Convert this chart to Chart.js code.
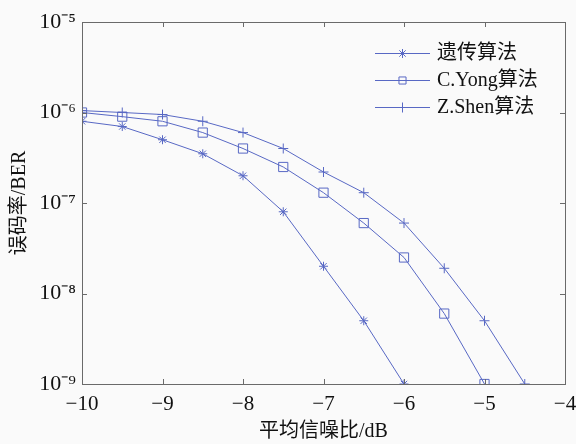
<!DOCTYPE html>
<html>
<head>
<meta charset="utf-8">
<script src="https://cdn.jsdelivr.net/npm/chart.js@4/dist/chart.umd.min.js"></script>
<style>
  html, body { margin: 0; padding: 0; background: #fafafa; }
  #wrap { width: 576px; height: 444px; }
</style>
</head>
<body>
<div id="wrap"><canvas id="berChart" width="576" height="444"></canvas></div>
<script>
// average SNR (dB)
var snr = [-10, -9.5, -9, -8.5, -8, -7.5, -7, -6.5, -6, -5.5, -5, -4.5];
// BER values
var gaBer   = [8e-7, 7e-7, 5e-7, 3.5e-7, 2e-7, 8e-8, 2e-8, 5e-9, 1e-9];
var yongBer = [1e-6, 9e-7, 8e-7, 6e-7, 4e-7, 2.5e-7, 1.3e-7, 6e-8, 2.5e-8, 6e-9, 1e-9];
var shenBer = [1.05e-6, 1e-6, 9.5e-7, 8e-7, 6e-7, 4e-7, 2.2e-7, 1.3e-7, 6e-8, 1.9e-8, 5e-9, 1e-9];
var seriesNames = ['遗传算法', 'C.Yong算法', 'Z.Shen算法'];
var xTicks = [-10, -9, -8, -7, -6, -5, -4];
var yTicks = [1e-9, 1e-8, 1e-7, 1e-6, 1e-5];

var lineColor = '#5868c4';
var serif = "'Liberation Serif', 'Times New Roman', 'Noto Sans CJK SC', serif";
var sup = { '-': '⁻', '0': '⁰', '1': '¹', '2': '²', '3': '³', '4': '⁴', '5': '⁵', '6': '⁶', '7': '⁷', '8': '⁸', '9': '⁹' };

function toPoints(vals) {
    return vals.map(function (v, i) { return { x: snr[i], y: v }; });
}

// box frame with inward ticks, MATLAB style
var framePlugin = {
    id: 'frame',
    afterDraw: function (chart) {
        var ctx = chart.ctx, a = chart.chartArea;
        var xs = chart.scales.x, ys = chart.scales.y;
        ctx.save();
        ctx.strokeStyle = '#6a6a6a';
        ctx.lineWidth = 1;
        ctx.strokeRect(a.left + 0.5, a.top + 0.5, a.right - a.left, a.bottom - a.top);
        ctx.beginPath();
        xTicks.forEach(function (v) {
            var px = Math.round(xs.getPixelForValue(v)) + 0.5;
            if (px <= a.left + 1 || px >= a.right - 1) return;
            ctx.moveTo(px, a.bottom); ctx.lineTo(px, a.bottom - 5);
            ctx.moveTo(px, a.top); ctx.lineTo(px, a.top + 5);
        });
        yTicks.forEach(function (v) {
            var py = Math.round(ys.getPixelForValue(v)) + 0.5;
            if (py <= a.top + 1 || py >= a.bottom - 1) return;
            ctx.moveTo(a.left, py); ctx.lineTo(a.left + 5, py);
            ctx.moveTo(a.right, py); ctx.lineTo(a.right - 5, py);
        });
        ctx.stroke();
        ctx.restore();
    }
};

// legend with line + marker, drawn inside the plot
var legendPlugin = {
    id: 'lineLegend',
    afterDraw: function (chart) {
        var ctx = chart.ctx, a = chart.chartArea;
        var x0 = a.right - 190, x1 = a.right - 135;
        ctx.save();
        chart.data.datasets.forEach(function (ds, i) {
            var y = a.top + 31 + i * 27;
            ctx.strokeStyle = ds.borderColor;
            ctx.fillStyle = 'rgba(0,0,0,0)';
            ctx.lineWidth = 1;
            ctx.beginPath();
            ctx.moveTo(x0, y + 0.5); ctx.lineTo(x1, y + 0.5);
            ctx.stroke();
            Chart.helpers.drawPoint(ctx, {
                pointStyle: ds.pointStyle, radius: ds.pointStyle === 'rect' ? 5 : ds.pointRadius,
                borderWidth: 1, rotation: 0
            }, (x0 + x1) / 2, y + 0.5);
            ctx.fillStyle = '#111';
            ctx.font = '20px ' + serif;
            ctx.textBaseline = 'middle';
            ctx.fillText(ds.label, x1 + 7, y + 1);
        });
        ctx.restore();
    }
};

function makeSet(label, vals, style, radius) {
    return {
        label: label,
        data: toPoints(vals),
        borderColor: lineColor,
        backgroundColor: 'rgba(0,0,0,0)',
        pointBorderColor: lineColor,
        borderWidth: 1,
        pointStyle: style,
        pointRadius: radius,
        pointBorderWidth: 1,
        tension: 0
    };
}

var ctx = document.getElementById('berChart').getContext('2d');
var berChart = new Chart(ctx, {
    type: 'line',
    data: {
        datasets: [
            makeSet(seriesNames[0], gaBer, 'star', 4.5),
            makeSet(seriesNames[1], yongBer, 'rect', 6.5),
            makeSet(seriesNames[2], shenBer, 'cross', 5)
        ]
    },
    options: {
        responsive: false,
        animation: false,
        layout: { padding: { top: 22, right: 11, left: 0, bottom: 0 } },
        plugins: {
            legend: { display: false },
            tooltip: { enabled: false }
        },
        scales: {
            x: {
                type: 'linear',
                min: -10,
                max: -4,
                afterFit: function (s) { s.height = 60; s.paddingLeft = 0; s.paddingRight = 0; },
                afterBuildTicks: function (s) { s.ticks = xTicks.map(function (v) { return { value: v }; }); },
                grid: { display: false, drawTicks: false },
                border: { display: false },
                ticks: {
                    padding: 8,
                    color: '#111',
                    font: { family: serif, size: 21 },
                    callback: function (v) { return v < 0 ? '\u2212' + Math.abs(v) : String(v); }
                },
                title: {
                    display: true,
                    text: '平均信噪比/dB',
                    color: '#111',
                    font: { family: serif, size: 20 },
                    padding: { top: 2, bottom: 0 }
                }
            },
            y: {
                type: 'logarithmic',
                min: 1e-9,
                max: 1e-5,
                afterFit: function (s) { s.width = 82; s.paddingTop = 0; s.paddingBottom = 0; },
                afterBuildTicks: function (s) { s.ticks = yTicks.map(function (v) { return { value: v }; }); },
                grid: { display: false, drawTicks: false },
                border: { display: false },
                ticks: {
                    padding: 6,
                    color: '#111',
                    font: { family: serif, size: 22 },
                    callback: function (v) {
                        var e = String(Math.round(Math.log10(v)));
                        return '10' + e.split('').map(function (c) { return sup[c]; }).join('');
                    }
                },
                title: {
                    display: true,
                    text: '误码率/BER',
                    color: '#111',
                    font: { family: serif, size: 20 },
                    padding: { top: 8, bottom: 0 }
                }
            }
        }
    },
    plugins: [framePlugin, legendPlugin]
});
</script>
</body>
</html>
